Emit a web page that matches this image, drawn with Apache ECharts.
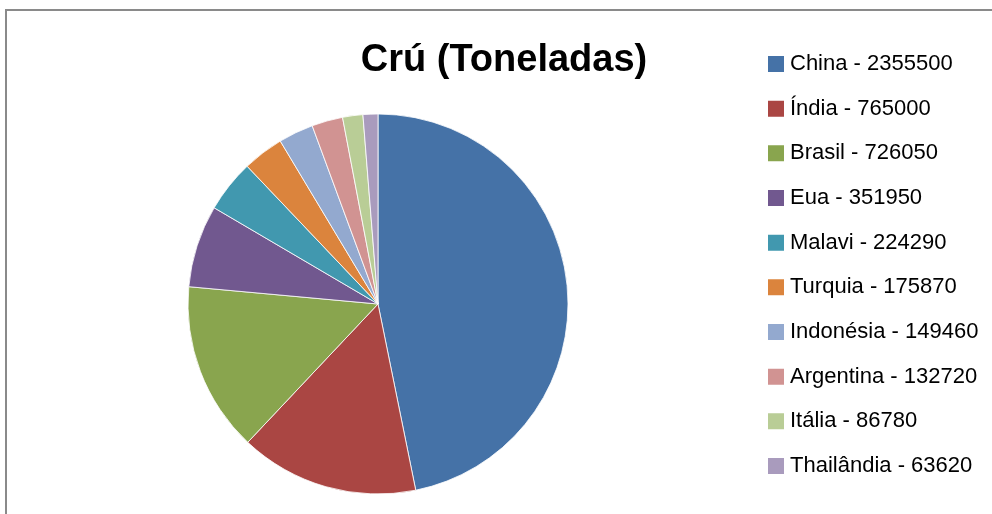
<!DOCTYPE html>
<html>
<head>
<meta charset="utf-8">
<script src="https://cdn.jsdelivr.net/npm/echarts@6/dist/echarts.min.js"></script>
<style>
  html, body { margin: 0; padding: 0; background: #fff; }
  #chart { width: 992px; height: 514px; }
</style>
</head>
<body>
<div id="chart"></div>
<script>
// dados do gráfico
const paises = ['China', 'Índia', 'Brasil', 'Eua', 'Malavi', 'Turquia', 'Indonésia', 'Argentina', 'Itália', 'Thailândia'];
const toneladas = [2355500, 765000, 726050, 351950, 224290, 175870, 149460, 132720, 86780, 63620];
const cores = ['#4572A7', '#AA4643', '#89A54E', '#71588F', '#4198AF', '#DB843D', '#93A9CF', '#D19392', '#B9CD96', '#A99BBD'];

const chart = echarts.init(document.getElementById('chart'));

const option = {
  animation: false,
  color: cores,
  title: {
    text: 'Crú (Toneladas)',
    left: 504,
    top: 42,
    padding: 0,
    textAlign: 'center',
    textStyle: {
      fontFamily: 'Liberation Sans',
      fontWeight: 'bold',
      fontSize: 38,
      color: '#000',
    },
  },
  legend: {
    orient: 'vertical',
    left: 766,
    top: 53,
    padding: 0,
    itemWidth: 18,
    itemHeight: 18,
    itemGap: 22.67,
    icon: 'rect',
    formatter: (name) => name + ' - ' + toneladas[paises.indexOf(name)],
    textStyle: {
      fontFamily: 'Liberation Sans',
      fontSize: 22,
      lineHeight: 22,
      color: '#000',
    },
  },
  graphic: [
    {
      // moldura da área do gráfico
      type: 'rect',
      shape: { x: 6, y: 10, width: 1100, height: 600 },
      style: { fill: 'none', stroke: '#8a8a8a', lineWidth: 2 },
      silent: true,
      z: -1,
    },
  ],
  series: [
    {
      name: 'Crú',
      type: 'pie',
      center: [378, 304],
      radius: 190,
      startAngle: 90,
      clockwise: true,
      label: { show: false },
      labelLine: { show: false },
      itemStyle: { borderColor: '#fff', borderWidth: 0.8 },
      emphasis: { disabled: true },
      data: paises.map((p, i) => ({ name: p, value: toneladas[i] })),
    },
  ],
};

chart.setOption(option);
</script>
</body>
</html>
